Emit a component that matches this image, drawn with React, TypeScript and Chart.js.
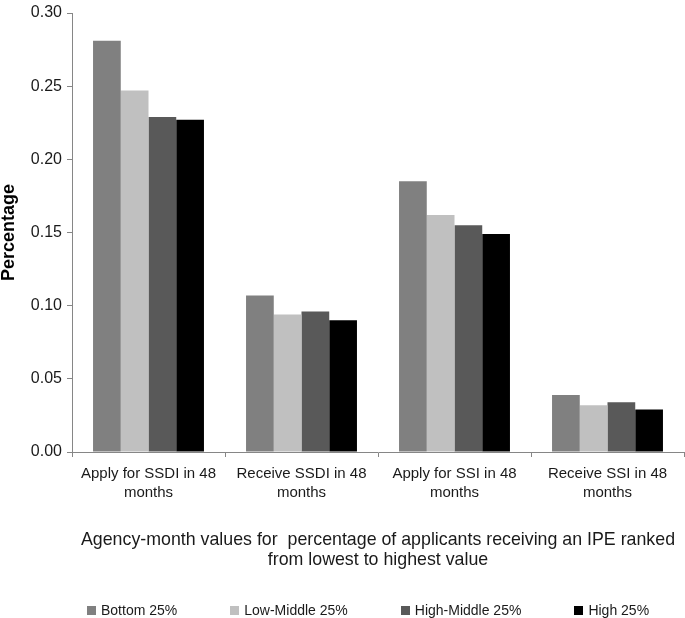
import React, { useEffect, useRef } from "react";
import { Chart, registerables } from "chart.js";

Chart.register(...registerables);

const categories: string[][] = [
  ["Apply for SSDI in 48", "months"],
  ["Receive SSDI in 48", "months"],
  ["Apply for SSI in 48", "months"],
  ["Receive SSI in 48", "months"],
];

const seriesNames = ["Bottom 25%", "Low-Middle 25%", "High-Middle 25%", "High 25%"];
const bottom = [0.281, 0.107, 0.185, 0.039];
const lowMiddle = [0.247, 0.094, 0.162, 0.032];
const highMiddle = [0.229, 0.096, 0.155, 0.034];
const high = [0.227, 0.09, 0.149, 0.029];
const seriesColors = ["#808080", "#c0c0c0", "#595959", "#000000"];

const yTicks = [0, 0.05, 0.1, 0.15, 0.2, 0.25, 0.3];
const yTitle = "Percentage";
const xTitle = [
  "Agency-month values for  percentage of applicants receiving an IPE ranked",
  "from lowest to highest value",
];

const FONT = '"Liberation Sans", Arial, Helvetica, sans-serif';

export default function App() {
  const canvasRef = useRef<HTMLCanvasElement | null>(null);

  useEffect(() => {
    if (!canvasRef.current) return;
    Chart.defaults.font.family = FONT;
    const values = [bottom, lowMiddle, highMiddle, high];
    const chart = new Chart(canvasRef.current, {
      type: "bar",
      data: {
        labels: categories,
        datasets: seriesNames.map((name, i) => ({
          label: name,
          data: values[i],
          backgroundColor: seriesColors[i],
          borderWidth: 0,
          barPercentage: 1,
          categoryPercentage: 0.725,
        })),
      },
      options: {
        animation: false,
        responsive: true,
        maintainAspectRatio: false,
        layout: { padding: { top: 8, right: 1, bottom: 0, left: 0 } },
        plugins: {
          legend: { display: false },
          tooltip: { enabled: false },
        },
        scales: {
          x: {
            grid: {
              offset: true,
              drawOnChartArea: false,
              tickLength: 5,
              color: "#868686",
            },
            border: { color: "#868686", width: 1 },
            ticks: {
              color: "#1a1a1a",
              font: { size: 15, lineHeight: 1.27 },
              padding: 7,
              maxRotation: 0,
              autoSkip: false,
            },
            title: {
              display: true,
              text: xTitle,
              color: "#1a1a1a",
              font: { size: 17.8, lineHeight: 1.124 },
              padding: { top: 0, bottom: 48 },
            },
            afterFit: (scale: any) => {
              scale.height = 166;
            },
          },
          y: {
            min: 0,
            max: 0.3,
            afterBuildTicks: (scale: any) => {
              scale.ticks = yTicks.map((v) => ({ value: v }));
            },
            grid: {
              drawOnChartArea: false,
              tickLength: 5,
              color: "#868686",
            },
            border: { color: "#868686", width: 1 },
            ticks: {
              color: "#1a1a1a",
              font: { size: 16, lineHeight: 1 },
              padding: 5,
              callback: (v: any) => Number(v).toFixed(2),
            },
            title: {
              display: true,
              text: yTitle,
              color: "#000",
              font: { size: 18, weight: "bold", lineHeight: 1 },
              padding: 0,
            },
            afterFit: (scale: any) => {
              scale.width = 72;
            },
          },
        },
      },
    });
    return () => chart.destroy();
  }, []);

  return (
    <div
      style={{
        position: "fixed",
        left: 0,
        top: 0,
        width: 685,
        height: 618,
        background: "#fff",
      }}
    >
      <canvas ref={canvasRef} />
      <div
        style={{
          position: "absolute",
          left: 87,
          top: 601,
          display: "flex",
          gap: 53,
          fontFamily: FONT,
          fontSize: 14,
          lineHeight: "18px",
          color: "#1a1a1a",
          whiteSpace: "nowrap",
        }}
      >
        {seriesNames.map((name, i) => (
          <div key={name} style={{ display: "flex", alignItems: "center" }}>
            <span
              style={{
                display: "inline-block",
                width: 9,
                height: 9,
                background: seriesColors[i],
                marginRight: 5,
              }}
            />
            <span>{name}</span>
          </div>
        ))}
      </div>
    </div>
  );
}
